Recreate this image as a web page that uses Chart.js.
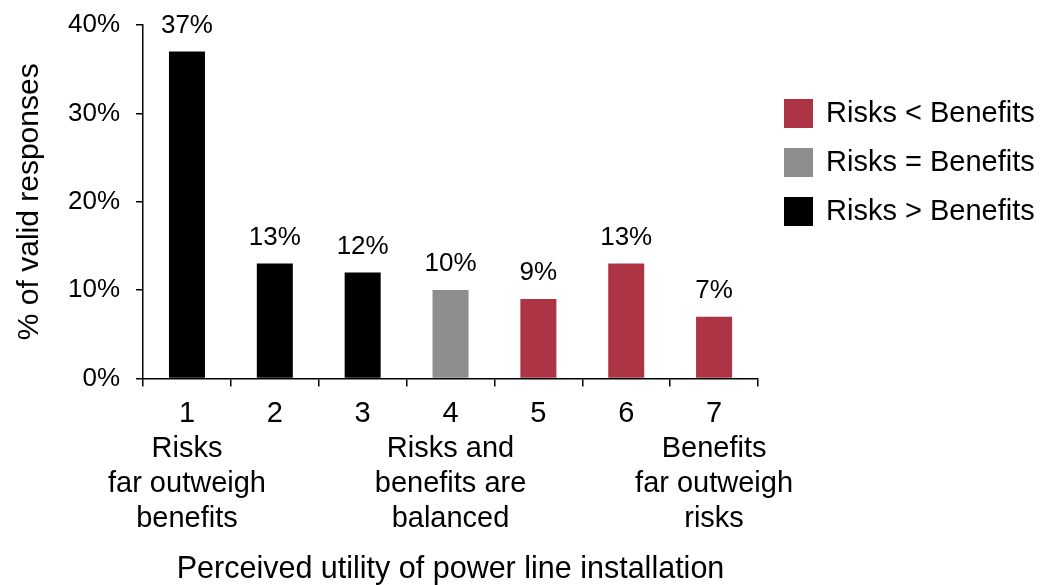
<!DOCTYPE html>
<html>
<head>
<meta charset="utf-8">
<script src="https://cdn.jsdelivr.net/npm/chart.js@4/dist/chart.umd.min.js"></script>
<style>
  html, body { margin: 0; padding: 0; background: #fff; }
  #wrap { width: 1044px; height: 585px; }
</style>
</head>
<body>
<div id="wrap"><canvas id="utilityChart"></canvas></div>
<script>
// chart values
var categories = ['1', '2', '3', '4', '5', '6', '7'];
var notes = [['Risks', 'far outweigh', 'benefits'], [], [], ['Risks and', 'benefits are', 'balanced'], [], [], ['Benefits', 'far outweigh', 'risks']];
var risksLess = [null, null, null, null, 9, 13, 7];
var risksEqual = [null, null, null, 10, null, null, null];
var risksMore = [37, 13, 12, null, null, null, null];
var seriesNames = ['Risks < Benefits', 'Risks = Benefits', 'Risks > Benefits'];
var yTicks = [0, 10, 20, 30, 40];

Chart.defaults.font.family = '"Liberation Sans", Arial, sans-serif';
Chart.defaults.color = '#000';

// tick label = number plus the note lines under it
var labels = categories.map(function (c, i) { return [c].concat(notes[i]); });

//value labels over the bars
var valueLabels = {
    id: 'valueLabels',
    afterDatasetsDraw: function (chart) {
        var ctx = chart.ctx;
        ctx.save();
        ctx.font = '26px "Liberation Sans", Arial, sans-serif';
        ctx.fillStyle = '#000';
        ctx.textAlign = 'center';
        ctx.textBaseline = 'bottom';
        chart.data.datasets.forEach(function (ds, i) {
            var meta = chart.getDatasetMeta(i);
            meta.data.forEach(function (bar, j) {
                if (ds.data[j] == null) return;
                ctx.fillText(ds.data[j] + '%', bar.x, bar.y - 13);
            });
        });
        ctx.restore();
    }
};

//legend to the right of the plot (the built-in one gets squeezed by the layout)
var sideLegend = {
    id: 'sideLegend',
    afterDraw: function (chart) {
        var ctx = chart.ctx;
        var x = chart.chartArea.right + 26;
        var y = 99;
        ctx.save();
        ctx.font = '29px "Liberation Sans", Arial, sans-serif';
        ctx.textAlign = 'left';
        ctx.textBaseline = 'middle';
        chart.data.datasets.forEach(function (ds) {
            ctx.fillStyle = ds.backgroundColor;
            ctx.fillRect(x, y, 29, 29);
            ctx.fillStyle = '#000';
            ctx.fillText(ds.label, x + 42, y + 15);
            y += 49;
        });
        ctx.restore();
    }
};

var ctx = document.getElementById('utilityChart').getContext('2d');
var chart = new Chart(ctx, {
    type: 'bar',
    data: {
        labels: labels,
        datasets: [{
                label: seriesNames[0],
                data: risksLess,
                backgroundColor: '#AD3444'
            },
            {
                label: seriesNames[1],
                data: risksEqual,
                backgroundColor: '#8E8E8E'
            },
            {
                label: seriesNames[2],
                data: risksMore,
                backgroundColor: '#000000'
            }]
    },
    plugins: [valueLabels, sideLegend],
    options: {
        responsive: true,
        maintainAspectRatio: false,
        animation: false,
        layout: {
            padding: { top: 25, right: 286, bottom: 0, left: 12 }
        },
        datasets: {
            bar: {
                grouped: false,
                categoryPercentage: 1,
                barPercentage: 0.41
            }
        },
        plugins: {
            tooltip: { enabled: false },
            legend: { display: false }
        },
        scales: {
            x: {
                grid: {
                    drawOnChartArea: false,
                    drawTicks: true,
                    tickLength: 8,
                    color: '#000',
                    lineWidth: 1.5
                },
                border: { color: '#000', width: 1.5 },
                ticks: {
                    font: { size: 29, lineHeight: 1.207 },
                    padding: 10,
                    maxRotation: 0,
                    autoSkip: false
                },
                title: {
                    display: true,
                    text: 'Perceived utility of power line installation',
                    font: { size: 30.5, lineHeight: 1.0 },
                    padding: { top: 8, bottom: 0 }
                }
            },
            y: {
                min: 0,
                max: 40,
                afterBuildTicks: function (axis) {
                    axis.ticks = yTicks.map(function (v) { return { value: v }; });
                },
                afterFit: function (axis) {
                    // keep the plot top set by layout padding only
                    axis.paddingTop = 0;
                    axis.paddingBottom = 0;
                },
                grid: {
                    drawOnChartArea: false,
                    drawTicks: true,
                    tickLength: 7,
                    color: '#000',
                    lineWidth: 1.5
                },
                border: { color: '#000', width: 1.5 },
                ticks: {
                    font: { size: 26 },
                    padding: 16,
                    callback: function (v) { return v + '%'; }
                },
                title: {
                    display: true,
                    text: '% of valid responses',
                    font: { size: 30 },
                    padding: { top: 0, bottom: 4 }
                }
            }
        }
    }
});
</script>
</body>
</html>
